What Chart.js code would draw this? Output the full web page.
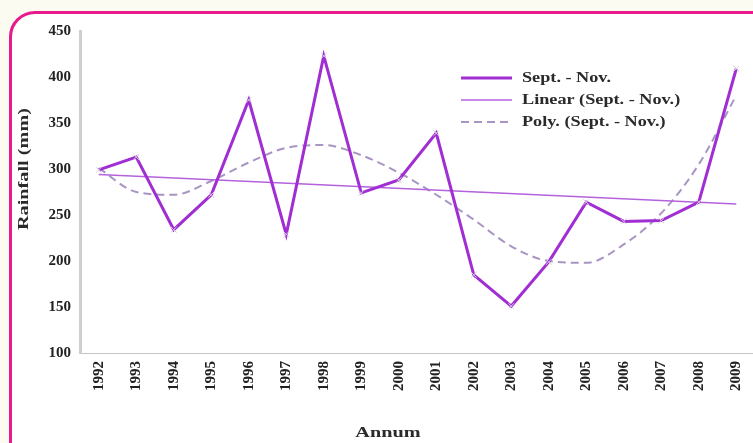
<!DOCTYPE html>
<html>
<head>
<meta charset="utf-8">
<script src="https://cdn.jsdelivr.net/npm/chart.js@4.4.1/dist/chart.umd.min.js"></script>
<style>
    html, body { margin: 0; padding: 0; overflow: hidden; background: #fcfbf2; }
    body { width: 753px; height: 443px; position: relative; }
    .frame {
        position: absolute; left: 9px; top: 11px; width: 800px; height: 470px;
        border: 3px solid #e8198b; border-radius: 26px; background: #fff;
    }
    .wrap { position: absolute; left: 0; top: 0; width: 760px; height: 443px; }
</style>
</head>
<body>
<div class="frame"></div>
<div class="wrap"><canvas id="chart" width="760" height="443"></canvas></div>
<script>
const years = ['1992', '1993', '1994', '1995', '1996', '1997', '1998', '1999', '2000',
    '2001', '2002', '2003', '2004', '2005', '2006', '2007', '2008', '2009'];

// Sept. - Nov. rainfall (mm)
const rainfall = [299, 313, 234, 272, 375, 229, 423, 274, 288,
    339, 185, 151, 199, 264, 243, 244, 264, 409];

// linear trend: only the two ends
const linearTrend = [294, null, null, null, null, null, null, null, null,
    null, null, null, null, null, null, null, null, 262];

// polynomial trend
const polyTrend = [301, 275, 272, 287, 307, 323, 326, 315, 296,
    272, 245, 216, 200, 198, 218, 252, 305, 380];

const yTicks = [100, 150, 200, 250, 300, 350, 400, 450];

const xTitle = 'Annum';
const yTitle = 'Rainfall (mm)';

const serif = '"Liberation Serif", "Times New Roman", serif';

// the print uses a wide, heavy face; stretch the text a bit sideways
function wideText(ctx, text, x, y, size, stretch, align) {
    ctx.save();
    ctx.translate(x, y);
    ctx.scale(stretch, 1);
    ctx.font = 'bold ' + size + 'px ' + serif;
    ctx.textAlign = align;
    ctx.textBaseline = 'middle';
    ctx.fillText(text, 0, 0);
    ctx.restore();
}

// legend inside the plot (top right) and the two axis titles
const extras = {
    id: 'extras',
    afterDraw(chart) {
        const { ctx } = chart;
        const x0 = 461, x1 = 512, tx = 522;
        const rows = [78, 100, 122];
        ctx.save();
        ctx.fillStyle = '#2a2a2a';
        chart.data.datasets.forEach((ds, i) => {
            const y = rows[i];
            ctx.beginPath();
            ctx.strokeStyle = ds.borderColor;
            ctx.lineWidth = ds.borderWidth;
            ctx.setLineDash(ds.borderDash || []);
            ctx.moveTo(x0, y);
            ctx.lineTo(x1, y);
            ctx.stroke();
            ctx.setLineDash([]);
            wideText(ctx, ds.label, tx, y, 14, 1.3, 'left');
        });

        wideText(ctx, xTitle, 388, 433, 15, 1.35, 'center');

        ctx.save();
        ctx.translate(24, 169);
        ctx.rotate(-Math.PI / 2);
        wideText(ctx, yTitle, 0, 0, 15, 1.35, 'center');
        ctx.restore();
        ctx.restore();
    }
};

new Chart(document.getElementById('chart').getContext('2d'), {
    type: 'line',
    data: {
        labels: years,
        datasets: [
            {
                label: 'Sept. - Nov.',
                data: rainfall,
                borderColor: '#a02ed2',
                borderWidth: 3,
                tension: 0,
                pointStyle: 'crossRot',
                pointRadius: 4,
                pointBorderWidth: 1,
                pointBorderColor: '#d4ccdc',
                pointBackgroundColor: '#d4ccdc'
            },
            {
                label: 'Linear (Sept. - Nov.)',
                data: linearTrend,
                borderColor: '#b462dc',
                borderWidth: 1.5,
                spanGaps: true,
                pointRadius: 0
            },
            {
                label: 'Poly. (Sept. - Nov.)',
                data: polyTrend,
                borderColor: '#a995c4',
                borderWidth: 2,
                borderDash: [8, 5],
                cubicInterpolationMode: 'monotone',
                pointRadius: 0
            }
        ]
    },
    options: {
        responsive: false,
        animation: false,
        layout: { padding: { top: 31, left: 0, right: 0, bottom: 0 } },
        plugins: { legend: { display: false }, tooltip: { enabled: false } },
        scales: {
            x: {
                offset: true,
                grid: { display: false, drawTicks: true, tickLength: 3, color: '#bbb' },
                border: { color: '#c4c4c4', width: 1, dash: [2, 2] },
                ticks: {
                    color: '#222',
                    font: { family: serif, weight: 'bold', size: 15 },
                    minRotation: 90,
                    maxRotation: 90,
                    autoSkip: false,
                    padding: 5
                },
                afterFit(scale) { scale.height = 90; }
            },
            y: {
                min: 100,
                max: 450,
                afterBuildTicks(scale) { scale.ticks = yTicks.map(v => ({ value: v })); },
                grid: { display: false, drawTicks: true, tickLength: 3, color: '#ccc' },
                border: { color: '#cfcfcf', width: 3 },
                ticks: {
                    color: '#222',
                    font: { family: serif, weight: 'bold', size: 15 },
                    padding: 6
                },
                afterFit(scale) { scale.width = 80; }
            }
        }
    },
    plugins: [extras]
});
</script>
</body>
</html>
